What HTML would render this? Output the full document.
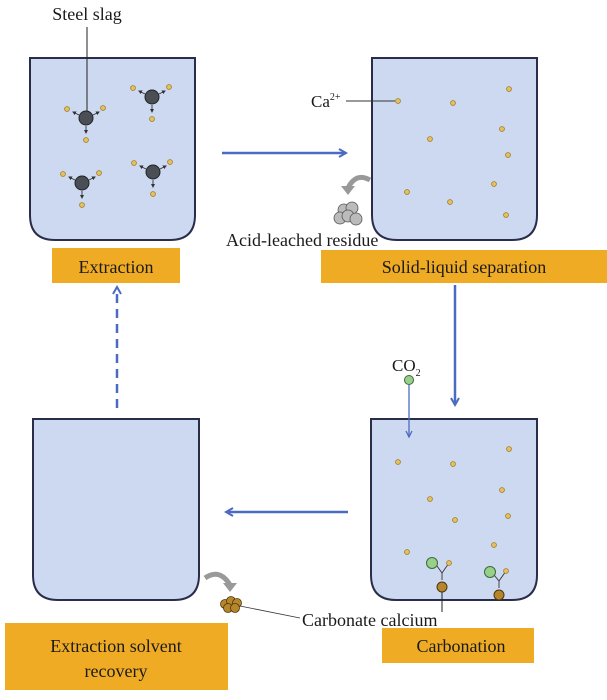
<!DOCTYPE html>
<html><head><meta charset="utf-8"><style>
html,body{margin:0;padding:0;background:#fff;}
svg{display:block;}
text{font-family:"Liberation Serif",serif;fill:#1a1a1a;}
</style></head><body>
<svg width="607" height="700" viewBox="0 0 607 700" xmlns="http://www.w3.org/2000/svg">
<defs>
<marker id="ah" markerWidth="10" markerHeight="10" refX="8" refY="5" orient="auto" markerUnits="userSpaceOnUse">
<path d="M1,1 L8,5 L1,9" fill="none" stroke="#4a6cc0" stroke-width="2"/></marker>
<marker id="sa" markerWidth="4" markerHeight="4" refX="3" refY="2" orient="auto" markerUnits="userSpaceOnUse">
<path d="M0,0 L4,2 L0,4z" fill="#333"/></marker>
<marker id="ta" markerWidth="8" markerHeight="8" refX="7" refY="4" orient="auto" markerUnits="userSpaceOnUse">
<path d="M1,1 L7,4 L1,7" fill="none" stroke="#4a6cc0" stroke-width="1.3"/></marker>
<g id="ca"><circle r="2.4" fill="#e8c060" stroke="#9a7a20" stroke-width="0.8"/></g>
<g id="slag">
<circle r="7" fill="#4a4e55" stroke="#222" stroke-width="1"/>
<line x1="-7" y1="-3" x2="-13" y2="-6" stroke="#333" stroke-width="0.9" marker-end="url(#sa)"/>
<line x1="7" y1="-3" x2="13" y2="-6" stroke="#333" stroke-width="0.9" marker-end="url(#sa)"/>
<line x1="0" y1="8" x2="0" y2="15" stroke="#333" stroke-width="0.9" marker-end="url(#sa)"/>
<use href="#ca" x="-19" y="-9"/><use href="#ca" x="17" y="-10"/><use href="#ca" x="0" y="22"/>
</g>
</defs>

<path d="M30,58 H195 V215 Q195,240 170,240 H55 Q30,240 30,215 Z" fill="#cdd9f0" stroke="#2a2d4a" stroke-width="2"/>
<path d="M372,58 H537 V215 Q537,240 512,240 H397 Q372,240 372,215 Z" fill="#cdd9f0" stroke="#2a2d4a" stroke-width="2"/>
<path d="M371,419 H537 V575 Q537,600 512,600 H396 Q371,600 371,575 Z" fill="#cdd9f0" stroke="#2a2d4a" stroke-width="2"/>
<path d="M33,419 H199 V575 Q199,600 174,600 H58 Q33,600 33,575 Z" fill="#cdd9f0" stroke="#2a2d4a" stroke-width="2"/>

<rect x="52" y="248" width="128" height="35" fill="#f0ab24"/>
<text x="116" y="273" font-size="18" text-anchor="middle">Extraction</text>
<rect x="321" y="250" width="286" height="33" fill="#f0ab24"/>
<text x="464" y="273" font-size="18" text-anchor="middle">Solid-liquid separation</text>
<rect x="382" y="628" width="152" height="35" fill="#f0ab24"/>
<text x="461" y="652" font-size="18" text-anchor="middle">Carbonation</text>
<rect x="5" y="623" width="223" height="67" fill="#f0ab24"/>
<text x="116" y="652" font-size="18" text-anchor="middle">Extraction solvent</text>
<text x="116" y="677" font-size="18" text-anchor="middle">recovery</text>

<text x="87" y="20" font-size="18" text-anchor="middle">Steel slag</text>
<line x1="87" y1="27" x2="87" y2="111" stroke="#222" stroke-width="1"/>
<use href="#slag" x="86" y="118"/>
<use href="#slag" x="152" y="97"/>
<use href="#slag" x="82" y="183"/>
<use href="#slag" x="153" y="172"/>

<line x1="222" y1="153" x2="346" y2="153" stroke="#4a6cc0" stroke-width="2.5" marker-end="url(#ah)"/>
<line x1="455" y1="285" x2="455" y2="405" stroke="#4a6cc0" stroke-width="2.5" marker-end="url(#ah)"/>
<line x1="348" y1="512" x2="226" y2="512" stroke="#4a6cc0" stroke-width="2.5" marker-end="url(#ah)"/>
<line x1="117" y1="408" x2="117" y2="287" stroke="#4a6cc0" stroke-width="2.5" stroke-dasharray="9,6" marker-end="url(#ah)"/>

<text x="311" y="107" font-size="17">Ca<tspan font-size="10" dy="-7">2+</tspan></text>
<line x1="346" y1="101" x2="395" y2="101" stroke="#333" stroke-width="1"/>
<use href="#ca" x="398" y="101"/><use href="#ca" x="453" y="103"/><use href="#ca" x="509" y="89"/>
<use href="#ca" x="430" y="139"/><use href="#ca" x="502" y="129"/><use href="#ca" x="508" y="155"/>
<use href="#ca" x="407" y="192"/><use href="#ca" x="450" y="202"/><use href="#ca" x="494" y="184"/><use href="#ca" x="506" y="215"/>
<path d="M370,180 Q356,172 348,188" fill="none" stroke="#999" stroke-width="5"/>
<path d="M341,186 L355,186 L348,195 Z" fill="#999"/>
<g fill="#bbb" stroke="#555" stroke-width="0.8">
<circle cx="344" cy="210" r="6"/><circle cx="352" cy="208" r="6"/><circle cx="340" cy="218" r="6"/><circle cx="348" cy="216" r="6"/><circle cx="356" cy="219" r="6"/>
</g>
<text x="226" y="246" font-size="18">Acid-leached residue</text>

<text x="392" y="371" font-size="17">CO<tspan font-size="10" dy="5">2</tspan></text>
<circle cx="409" cy="380" r="4.5" fill="#98d08a" stroke="#3a6a3a" stroke-width="1"/>
<line x1="409" y1="385" x2="409" y2="437" stroke="#4a6cc0" stroke-width="1.3" marker-end="url(#ta)"/>
<use href="#ca" x="398" y="462"/><use href="#ca" x="453" y="464"/><use href="#ca" x="509" y="449"/>
<use href="#ca" x="430" y="499"/><use href="#ca" x="502" y="490"/><use href="#ca" x="508" y="516"/>
<use href="#ca" x="407" y="552"/><use href="#ca" x="455" y="520"/><use href="#ca" x="494" y="545"/>
<g stroke="#333" stroke-width="0.9" fill="none">
<path d="M437,566 L442,573 L449,563 M442,573 L442,580"/>
<path d="M494,575 L499,581 L506,571 M499,581 L499,588"/>
</g>
<circle cx="432" cy="563" r="5.5" fill="#98d08a" stroke="#3a6a3a"/>
<use href="#ca" x="449" y="563"/>
<circle cx="442" cy="587" r="5" fill="#b8862a" stroke="#4a3510"/>
<circle cx="490" cy="572" r="5.5" fill="#98d08a" stroke="#3a6a3a"/>
<use href="#ca" x="506" y="571"/>
<circle cx="499" cy="595" r="5" fill="#b8862a" stroke="#4a3510"/>
<line x1="442" y1="592" x2="442" y2="612" stroke="#222" stroke-width="1"/>

<path d="M205,578 Q220,568 230,585" fill="none" stroke="#999" stroke-width="5"/>
<path d="M223,583 L237,583 L230,592 Z" fill="#999"/>
<g fill="#b8862a" stroke="#4a3510" stroke-width="0.8">
<circle cx="225" cy="604" r="4.5"/><circle cx="231" cy="601" r="4.5"/><circle cx="237" cy="603" r="4.5"/><circle cx="228" cy="608" r="4.5"/><circle cx="235" cy="608" r="4.5"/>
</g>
<line x1="240" y1="606" x2="300" y2="618" stroke="#333" stroke-width="0.8"/>
<text x="302" y="626" font-size="18">Carbonate calcium</text>
</svg>
</body></html>
